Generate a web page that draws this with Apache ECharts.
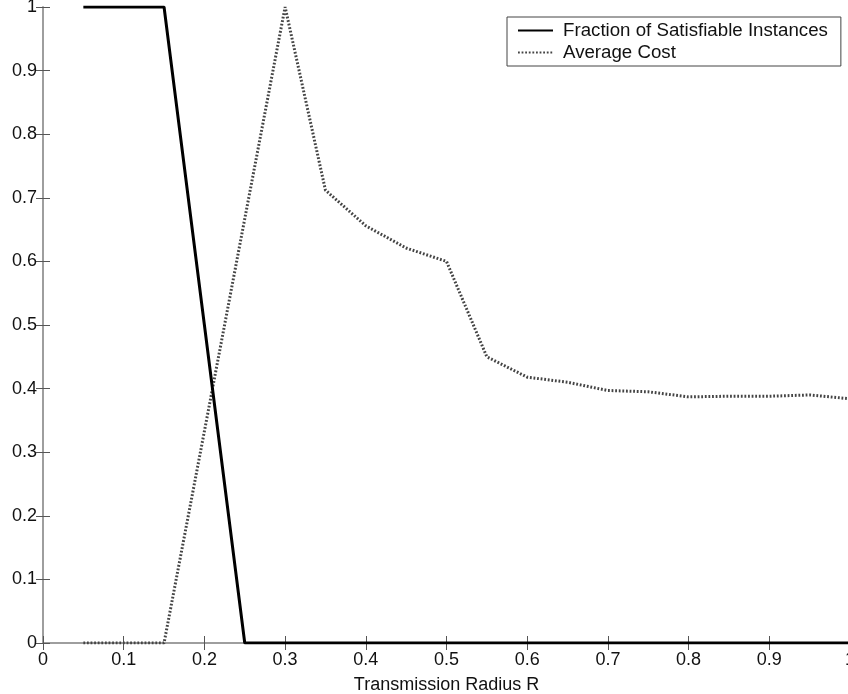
<!DOCTYPE html>
<html style="height: 100%">
<head>
    <meta charset="UTF-8" />
    <title>Transmission Radius</title>
    <script src="https://cdn.jsdelivr.net/npm/echarts@6/dist/echarts.min.js"></script>
</head>
<body style="height: 100%; margin: 0; background: #fff">
    <div id="main" style="width: 848px; height: 694px; margin: 0"></div>
    <script type="text/javascript">
        // transmission radius R
        var radius = [0.05, 0.1, 0.15, 0.2, 0.25, 0.3, 0.35, 0.4, 0.45, 0.5,
            0.55, 0.6, 0.65, 0.7, 0.75, 0.8, 0.85, 0.9, 0.95, 1.0];
        var fractionSat = [1, 1, 1, 0.5, 0, 0, 0, 0, 0, 0,
            0, 0, 0, 0, 0, 0, 0, 0, 0, 0];
        var avgCost = [0, 0, 0, 0.333, 0.667, 1, 0.712, 0.656, 0.621, 0.6,
            0.45, 0.418, 0.41, 0.397, 0.395, 0.387, 0.388, 0.388, 0.39, 0.384];
        var seriesNames = ['Fraction of Satisfiable Instances', 'Average Cost'];

        function pairs(xs, ys) {
            var out = [];
            for (var i = 0; i < xs.length; i++) out.push([xs[i], ys[i]]);
            return out;
        }

        var font = 'Liberation Sans, Arial, sans-serif';
        var myChart = echarts.init(document.getElementById('main'));

        var tickStyle = { inside: true, length: 7, lineStyle: { color: '#555', width: 1 } };
        var lineStyle = { lineStyle: { color: '#999', width: 1.5 } };

        myChart.setOption({
            animation: false,
            grid: { left: 43, top: 7, width: 807, height: 636, outerBoundsMode: 'none' },
            legend: {
                left: 507, top: 17, orient: 'vertical',
                backgroundColor: '#fff',
                borderColor: '#444', borderWidth: 1,
                padding: [4, 13, 4, 10], itemGap: 3,
                itemWidth: 35, itemHeight: 18,
                itemStyle: { opacity: 0 },
                textStyle: { fontFamily: font, fontSize: 18.7, color: '#111', padding: [0, 0, 0, 5] },
                data: seriesNames
            },
            xAxis: [{
                type: 'value', min: 0, max: 1, interval: 0.1,
                name: 'Transmission Radius R', nameLocation: 'middle', nameGap: 33,
                nameTextStyle: { fontFamily: font, fontSize: 18, color: '#111' },
                axisLine: lineStyle, axisTick: tickStyle, splitLine: { show: false },
                axisLabel: { fontFamily: font, fontSize: 18, color: '#111', margin: 8 }
            }, {
                type: 'value', min: 0, max: 1, interval: 0.1, position: 'top',
                axisLine: lineStyle, axisTick: tickStyle, splitLine: { show: false },
                axisLabel: { show: false }
            }],
            yAxis: [{
                type: 'value', min: 0, max: 1, interval: 0.1,
                axisLine: lineStyle, axisTick: tickStyle, splitLine: { show: false },
                axisLabel: { fontFamily: font, fontSize: 18, color: '#111', margin: 6 }
            }, {
                type: 'value', min: 0, max: 1, interval: 0.1, position: 'right',
                axisLine: lineStyle, axisTick: tickStyle, splitLine: { show: false },
                axisLabel: { show: false }
            }],
            series: [{
                name: seriesNames[0], type: 'line', symbol: 'none',
                data: pairs(radius, fractionSat),
                lineStyle: { color: '#000', width: 3 },
                itemStyle: { color: '#000' },
                z: 3
            }, {
                name: seriesNames[1], type: 'line', symbol: 'none',
                data: pairs(radius, avgCost),
                lineStyle: { color: '#444', width: 3, type: [1.8, 1.8] },
                itemStyle: { color: '#444' },
                z: 2
            }]
        });
    </script>
</body>
</html>
